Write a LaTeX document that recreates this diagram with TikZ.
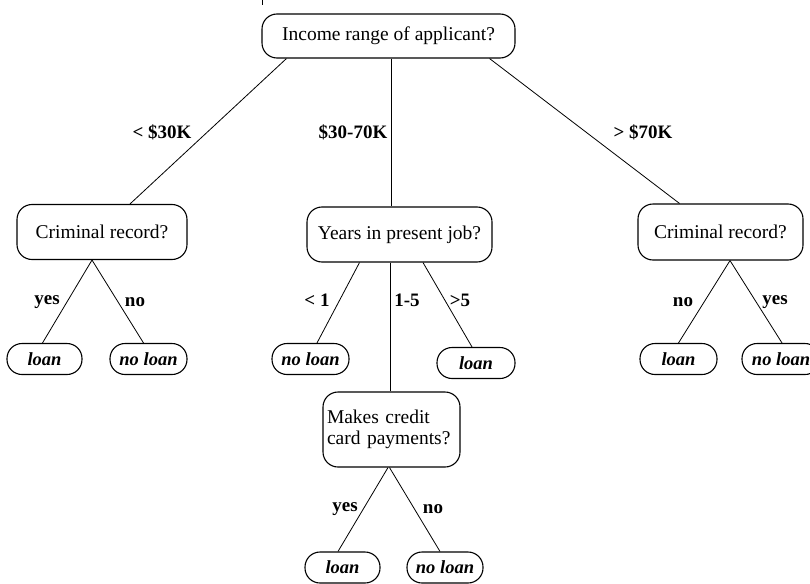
\documentclass[tikz,border=0pt]{standalone}
\usepackage{fontspec}
\setmainfont{Liberation Serif}
\begin{document}
\begin{tikzpicture}[x=1pt,y=-1pt,
  qbox/.style={draw,line width=1.1pt,rounded corners=15pt,inner sep=0pt,font=\fontsize{19.5}{21}\selectfont},
  leaf/.style={draw,line width=1.1pt,rounded corners=15pt,inner sep=0pt,minimum height=31pt,font=\fontsize{18.5}{20}\selectfont\bfseries\itshape},
  lab/.style={inner sep=0pt,font=\fontsize{19}{21}\selectfont\bfseries},
  edge/.style={line width=0.8pt}]
\useasboundingbox (0,0) rectangle (810,583);
\clip (0,0) rectangle (810,583);
% stray mark at top
\coordinate (m1) at (262,0);
\coordinate (m2) at (262,5);
\draw[line width=1pt] (m1) -- (m2);
% question nodes
\node[qbox,minimum width=253pt,minimum height=44pt] (root) at (388.5,36) {Income range of applicant?};
\node[qbox,minimum width=170pt,minimum height=55pt] (cl) at (102,232) {Criminal record?};
\node[qbox,minimum width=185pt,minimum height=55pt] (yj) at (399.5,234.5) {Years in present job?};
\node[qbox,minimum width=165pt,minimum height=56pt] (cr) at (720.5,232) {Criminal record?};
\node[qbox,minimum width=137pt,minimum height=75pt,align=left,text width=129pt] (mc) at (391.5,429.5) {Makes credit\\card payments?};
% leaves
\node[leaf,minimum width=75pt] (l1) at (44.5,359) {loan};
\node[leaf,minimum width=77pt] (l2) at (148.5,359) {no loan};
\node[leaf,minimum width=77pt] (l3) at (310.5,359) {no loan};
\node[leaf,minimum width=78pt] (l4) at (476,363) {loan};
\node[leaf,minimum width=77pt] (l5) at (678.5,359) {loan};
\node[leaf,minimum width=78pt] (l6) at (781,359) {no loan};
\node[leaf,minimum width=75pt] (l7) at (342.5,567.5) {loan};
\node[leaf,minimum width=76pt] (l8) at (445,567.5) {no loan};
% connectors
\draw[edge] ([xshift=25pt]root.south west) -- ([xshift=28pt]cl.north);
\draw[edge] ([xshift=3pt]root.south) -- ([xshift=3pt]root.south |- yj.north);
\draw[edge] ([xshift=-26pt]root.south east) -- ([xshift=-41pt]cr.north);
\draw[edge] ([xshift=-10pt]cl.south) -- ([xshift=-2pt]l1.north);
\draw[edge] ([xshift=-10pt]cl.south) -- ([xshift=-5pt]l2.north);
\draw[edge] ([xshift=-40pt]yj.south) -- ([xshift=6.5pt]l3.north);
\draw[edge] ([xshift=-1.5pt]mc.north |- yj.south) -- ([xshift=-1.5pt]mc.north);
\draw[edge] ([xshift=23.5pt]yj.south) -- ([xshift=-4pt]l4.north);
\draw[edge] ([xshift=9.5pt]cr.south) -- (l5.north);
\draw[edge] ([xshift=9.5pt]cr.south) -- ([xshift=1pt]l6.north);
\draw[edge] ([xshift=-3.5pt]mc.south) -- ([xshift=-4.5pt]l7.north);
\draw[edge] ([xshift=-2pt]mc.south) -- ([xshift=-5pt]l8.north);
% labels
\node[lab] (a1) at (162,132) {< \$30K};
\node[lab] (a2) at (353,132) {\$30-70K};
\node[lab] (a3) at (643,132) {> \$70K};
\node[lab] (b1) at (47,302) {yes};
\node[lab] (b2) at (135,302) {no};
\node[lab] (b3) at (317,300) {< 1};
\node[lab] (b4) at (407,300) {1-5};
\node[lab] (b5) at (460,300) {>5};
\node[lab] (b6) at (683,302) {no};
\node[lab] (b7) at (775,302) {yes};
\node[lab] (b8) at (345,509) {yes};
\node[lab] (b9) at (433,509) {no};
\end{tikzpicture}
\end{document}
